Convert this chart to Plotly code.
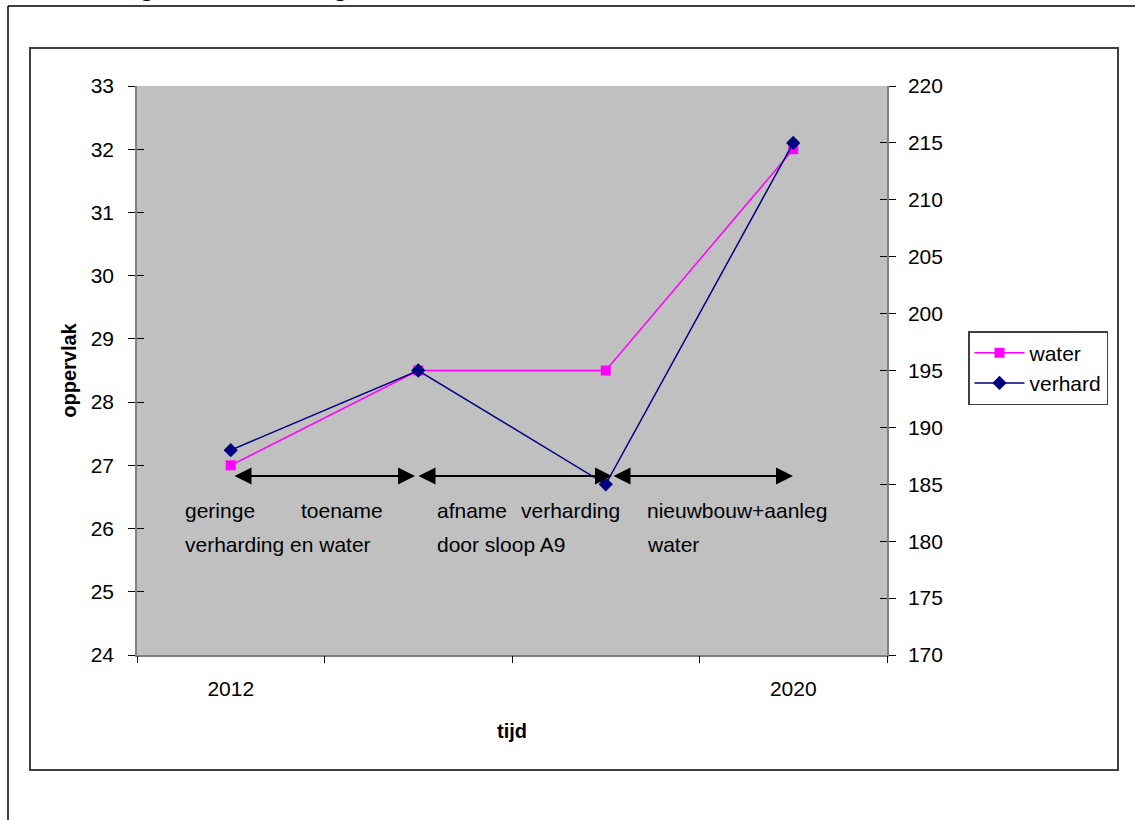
import plotly.graph_objects as go

# ── data ─────────────────────────────────────────────────────────────
x_pos = [0, 1, 2, 3]
tick_labels = ["2012", "2020"]
tick_label_pos = [0, 3]
water = [27.0, 28.5, 28.5, 32.0]
verhard = [188, 195, 185, 215]

FONT = "Arial, Liberation Sans, sans-serif"

# plot area in pixels (for paper-coordinate helpers)
L, R, T, B = 137, 887, 86, 655
W, H = 1135, 820


def px(x):
    return (x - L) / (R - L)


def py(y):
    return (B - y) / (B - T)


fig = go.Figure()

fig.add_trace(go.Scatter(
    x=x_pos, y=water, name="water", mode="lines+markers",
    line=dict(color="#FF00FF", width=1.5),
    marker=dict(symbol="square", size=10, color="#FF00FF"),
))
fig.add_trace(go.Scatter(
    x=x_pos, y=verhard, name="verhard", mode="lines+markers", yaxis="y2",
    line=dict(color="#000080", width=1.5),
    marker=dict(symbol="diamond", size=11, color="#000080"),
))
# invisible traces so the tick-overlay axes get drawn
fig.add_trace(go.Scatter(x=[None], y=[None], xaxis="x2", yaxis="y3",
                         showlegend=False, hoverinfo="skip"))
fig.add_trace(go.Scatter(x=[None], y=[None], xaxis="x2", yaxis="y4",
                         showlegend=False, hoverinfo="skip"))

axis_font = dict(family=FONT, size=21, color="#000000")
title_font = dict(family=FONT, size=20, color="#000000", weight="bold")

fig.update_layout(
    width=W, height=H,
    margin=dict(l=L, r=W - R, t=T, b=H - B),
    paper_bgcolor="white",
    plot_bgcolor="#C0C0C0",
    font=axis_font,
    showlegend=True,
    xaxis=dict(
        range=[-0.5, 3.5], tickvals=tick_label_pos, ticktext=tick_labels,
        ticks="", showgrid=False, zeroline=False,
        showline=True, linecolor="#808080", linewidth=1.5,
        tickfont=axis_font, ticklabelstandoff=14,
        title=dict(text="tijd", font=title_font, standoff=25),
    ),
    xaxis2=dict(
        range=[-0.5, 3.5], overlaying="x", side="bottom",
        tickvals=[-0.5, 0.5, 1.5, 2.5, 3.5], ticks="outside", ticklen=7,
        tickcolor="#000000", showticklabels=False, showgrid=False,
        zeroline=False, showline=False,
    ),
    yaxis=dict(
        range=[24, 33], dtick=1, ticks="outside", ticklen=7, tickcolor="#000000",
        showgrid=False, zeroline=False,
        showline=True, linecolor="#808080", linewidth=1.5,
        tickfont=axis_font, ticklabelstandoff=10,
        title=dict(text="oppervlak", font=title_font, standoff=9),
    ),
    yaxis2=dict(
        range=[170, 220], dtick=5, overlaying="y", side="right",
        ticks="outside", ticklen=7, tickcolor="#000000",
        showgrid=False, zeroline=False,
        showline=True, linecolor="#808080", linewidth=1.5,
        tickfont=axis_font, ticklabelstandoff=8,
    ),
    yaxis3=dict(
        range=[24, 33], dtick=1, overlaying="y", side="left",
        ticks="inside", ticklen=7, tickcolor="#000000",
        showticklabels=False, showgrid=False, zeroline=False, showline=False,
    ),
    yaxis4=dict(
        range=[170, 220], dtick=5, overlaying="y", side="right",
        ticks="inside", ticklen=7, tickcolor="#000000",
        showticklabels=False, showgrid=False, zeroline=False, showline=False,
    ),
    legend=dict(
        x=px(968), y=py(331), xanchor="left", yanchor="top",
        bgcolor="white", bordercolor="#404040", borderwidth=1.5,
        font=dict(family=FONT, size=21, color="#000000"),
        itemwidth=50,
    ),
)

# ── frames ───────────────────────────────────────────────────────────
fig.add_shape(type="line", xref="paper", yref="paper",
              x0=px(8), x1=px(1140), y0=py(6), y1=py(6),
              line=dict(color="#000000", width=1.5))
fig.add_shape(type="line", xref="paper", yref="paper",
              x0=px(8), x1=px(8), y0=py(6), y1=py(825),
              line=dict(color="#000000", width=1.5))
fig.add_shape(type="rect", xref="paper", yref="paper",
              x0=px(30), x1=px(1118), y0=py(770), y1=py(48),
              line=dict(color="#404040", width=2))

# cut-off title above the frame (only descenders remain visible)
fig.add_annotation(
    xref="paper", yref="paper", x=px(-9), y=py(4), xanchor="left", yanchor="bottom",
    text="Ontwikkeling van verharding en water", showarrow=False,
    font=dict(family=FONT, size=26, color="#000000", weight="bold"),
)

# ── double-headed arrows ─────────────────────────────────────────────
arrow_y = py(476)
for tail, tip in [(233, 415), (417, 612), (612, 793)]:
    fig.add_annotation(
        xref="paper", yref="paper", x=px(tip), y=arrow_y,
        ax=tail - tip, ay=0, text="", showarrow=True,
        arrowside="end+start", arrowhead=2, startarrowhead=2,
        arrowsize=1.7, startarrowsize=1.7, arrowwidth=2, arrowcolor="#000000",
        standoff=0, startstandoff=0,
    )

# ── notes ────────────────────────────────────────────────────────────
notes = [
    ("geringe", 183, 510), ("toename", 299, 510),
    ("verharding en water", 183, 544),
    ("afname", 435, 510), ("verharding", 519, 510),
    ("door sloop A9", 435, 544),
    ("nieuwbouw+aanleg", 645, 510),
    ("water", 645, 544),
]
for txt, x, y in notes:
    fig.add_annotation(
        xref="paper", yref="paper", x=px(x), y=py(y),
        xanchor="left", yanchor="middle", text=txt, showarrow=False,
        font=dict(family=FONT, size=21, color="#000000"),
    )

fig.write_html("out.html", config={"displayModeBar": False},
               post_script="document.body.style.margin='0';")
